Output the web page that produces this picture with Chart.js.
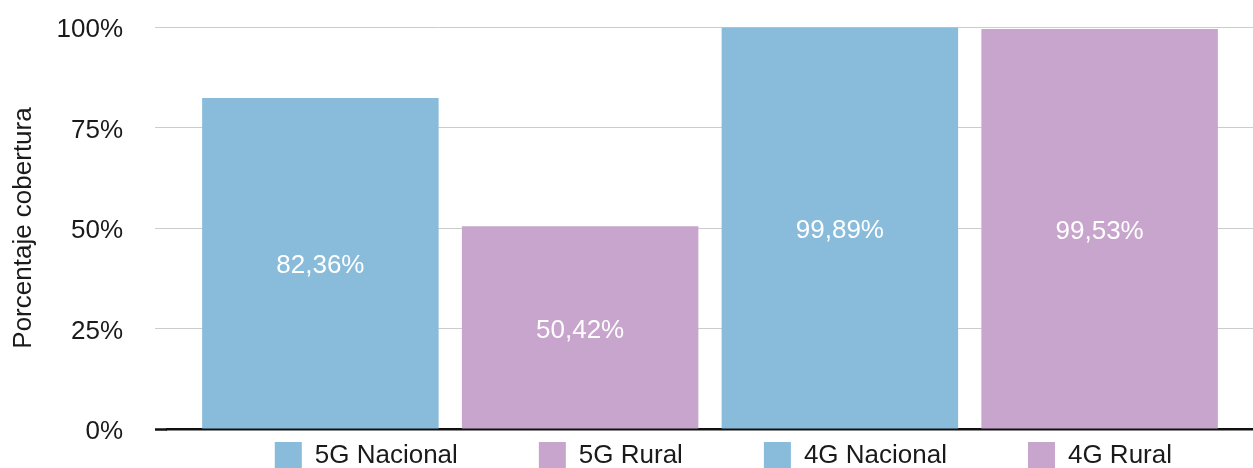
<!DOCTYPE html>
<html>
<head>
<meta charset="utf-8">
<script src="https://cdn.jsdelivr.net/npm/chart.js@4"></script>
<style>
  html, body { margin: 0; padding: 0; background: #ffffff; }
  #wrap { width: 1253px; height: 468px; }
</style>
</head>
<body>
<div id="wrap"><canvas id="c" width="1253" height="468"></canvas></div>
<script>
// ---- data ----
const seriesNames = ['5G Nacional', '5G Rural', '4G Nacional', '4G Rural'];
const coverageValues = [82.36, 50.42, 99.89, 99.53];
const seriesColors = ['#89bbdb', '#c8a5cc', '#89bbdb', '#c8a5cc'];
const categoryLabels = [''];
const yTickValues = [0, 25, 50, 75, 100];
const yAxisTitle = 'Porcentaje cobertura';

const FONT = '"Liberation Sans", Arial, Helvetica, sans-serif';
const fmt = v => v.toFixed(2).replace('.', ',') + '%';

const datasets = seriesNames.map((name, i) => ({
  label: name,
  data: [coverageValues[i]],
  backgroundColor: seriesColors[i],
  borderWidth: 0,
  categoryPercentage: 0.9567,
  barPercentage: 0.9105
}));

const LABEL_SHIFT = 3;
const valueLabels = {
  id: 'valueLabels',
  afterDatasetsDraw(chart) {
    const ctx = chart.ctx;
    ctx.save();
    ctx.font = '26px ' + FONT;
    ctx.fillStyle = '#ffffff';
    ctx.textAlign = 'center';
    ctx.textBaseline = 'middle';
    chart.data.datasets.forEach((ds, di) => {
      const meta = chart.getDatasetMeta(di);
      meta.data.forEach((bar, j) => {
        const p = bar.getProps(['x', 'y', 'base'], true);
        ctx.fillText(fmt(ds.data[j]), p.x, (p.y + p.base) / 2 + LABEL_SHIFT);
      });
    });
    ctx.restore();
  }
};

const LEGEND_H = 39;
const LEGEND_GAP = 13;
const legendTweak = {
  id: 'legendTweak',
  beforeLayout(chart) {
    const lg = chart.legend;
    if (lg && !lg._tweaked) {
      const fit = lg.fit;
      lg.fit = function () { fit.call(this); this.height = LEGEND_H; };
      lg._tweaked = true;
    }
  },
  afterLayout(chart) {
    const lg = chart.legend;
    if (lg) lg.top = chart.chartArea.bottom + LEGEND_GAP - lg.options.labels.padding;
  }
};

new Chart(document.getElementById('c'), {
  type: 'bar',
  data: { labels: categoryLabels, datasets },
  options: {
    responsive: false,
    animation: false,
    devicePixelRatio: 1,
    layout: { padding: { top: 27, right: 0, bottom: 0, left: 0 } },
    plugins: {
      tooltip: { enabled: false },
      legend: {
        position: 'bottom',
        align: 'end',
        labels: {
          boxWidth: 27,
          boxHeight: 27,
          padding: 81,
          color: '#1a1a1a',
          font: { family: FONT, size: 26 }
        }
      }
    },
    scales: {
      x: {
        type: 'category',
        grid: { display: false, drawTicks: false },
        ticks: { display: false },
        border: { display: true, color: '#111111', width: 2.5 }
      },
      y: {
        min: 0,
        max: 100,
        afterFit(s) { s.width = 167; s.paddingTop = 0; s.paddingBottom = 0; },
        afterBuildTicks(s) { s.ticks = yTickValues.map(v => ({ value: v })); },
        ticks: {
          padding: 32,
          labelOffset: 3,
          color: '#1a1a1a',
          font: { family: FONT, size: 26 },
          callback: v => v + '%'
        },
        grid: {
          color: '#cccccc',
          lineWidth: 1,
          drawTicks: true,
          tickLength: 12,
          tickColor: c => (c.tick && c.tick.value === 0 ? '#111111' : '#cccccc'),
          tickWidth: c => (c.tick && c.tick.value === 0 ? 2.5 : 1)
        },
        border: { display: false },
        title: {
          display: true,
          text: yAxisTitle,
          color: '#1a1a1a',
          font: { family: FONT, size: 26 },
          padding: { top: 8, bottom: 0 }
        }
      }
    }
  },
  plugins: [valueLabels, legendTweak]
});
</script>
</body>
</html>
